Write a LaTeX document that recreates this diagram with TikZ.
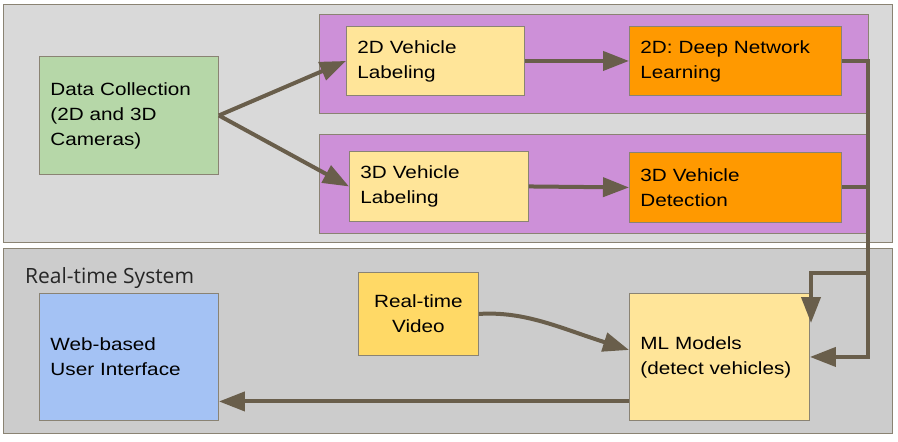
\documentclass[tikz,border=0pt]{standalone}
\usepackage{fontspec}
\setmainfont{Liberation Sans}[FakeStretch=1.17]
\newfontfamily\labelfont{Open Sans}
\usetikzlibrary{arrows.meta}
\definecolor{topbg}{HTML}{D9D9D9}
\definecolor{botbg}{HTML}{CCCCCC}
\definecolor{frame}{HTML}{8A8373}
\definecolor{purp}{HTML}{CD90D8}
\definecolor{cgreen}{HTML}{B6D7A8}
\definecolor{cyel}{HTML}{FFE599}
\definecolor{cyel2}{HTML}{FFD966}
\definecolor{corange}{HTML}{FF9900}
\definecolor{cblue}{HTML}{A4C2F4}
\definecolor{conncol}{HTML}{695E4B}
\tikzset{
  region/.style={draw=frame, line width=1.3pt, anchor=north west, inner sep=0pt},
  box/.style={draw=frame, line width=0.9pt, anchor=north west, inner xsep=11pt, inner ysep=0pt,
    align=left, font=\fontsize{17.7}{25}\selectfont},
  conn/.style={draw=conncol, line width=4pt, -{Triangle[length=26pt,width=19pt]}},
}
\begin{document}
\begin{tikzpicture}[x=1pt,y=-1pt]
\useasboundingbox (0,0) rectangle (898,442);
% regions
\node[region, fill=topbg, minimum width=889pt, minimum height=238pt] (top) at (3,4) {};
\node[region, fill=botbg, minimum width=889pt, minimum height=185pt] (bot) at (3,248) {};
\node[region, line width=0.9pt, fill=purp, minimum width=549pt, minimum height=99pt] (p2) at (319,14) {};
\node[region, line width=0.9pt, fill=purp, minimum width=548pt, minimum height=99pt] (p3) at (319,134) {};
\node[anchor=base west, inner sep=0pt, text=black!85, font=\labelfont\fontsize{21}{24}\selectfont] (rts) at (25,283) {Real-time System};
% boxes
\node[box, fill=cgreen, text width=157pt, minimum height=118pt] (dc) at (39,56) {Data Collection\\(2D and 3D\\Cameras)};
\node[box, fill=cyel, text width=156pt, minimum height=69pt] (lab2) at (346,26) {2D Vehicle\\Labeling};
\node[box, fill=corange, text width=190pt, minimum height=69pt] (deep2) at (629,26) {2D: Deep Network\\Learning};
\node[box, fill=cyel, text width=157pt, minimum height=70pt] (lab3) at (349,151) {3D Vehicle\\Labeling};
\node[box, fill=corange, text width=190pt, minimum height=70pt] (det3) at (629,152) {3D Vehicle\\Detection};
\node[box, fill=cblue, text width=157pt, minimum height=127pt] (web) at (39,293) {Web-based\\User Interface};
\node[box, fill=cyel2, align=center, text width=98pt, minimum height=83pt] (rtv) at (358,272) {Real-time\\Video};
\node[box, fill=cyel, text width=158pt, minimum height=127pt] (ml) at (629,293) {ML Models\\(detect vehicles)};
% connectors
\coordinate (rx) at (868,0);
\coordinate (mlin) at (811,323);
\draw[conn] (dc.east) -- (lab2.west);
\draw[conn] (dc.east) -- (lab3.west);
\draw[conn] (lab2.east) -- (deep2.west);
\draw[conn] (lab3.east) -- (det3.west);
\draw[conn] (deep2.east) -| (rx |- ml.east) -- (ml.east);
\draw[conn] (det3.east) -| (rx |- 0,273) -| (mlin);
\draw[conn] (rtv.east) .. controls (525,311) and (560,328) .. ([yshift=7pt]ml.west);
\draw[conn] ([yshift=-44.5pt]ml.west) -- ([yshift=-44.5pt]web.east);
\end{tikzpicture}
\end{document}
